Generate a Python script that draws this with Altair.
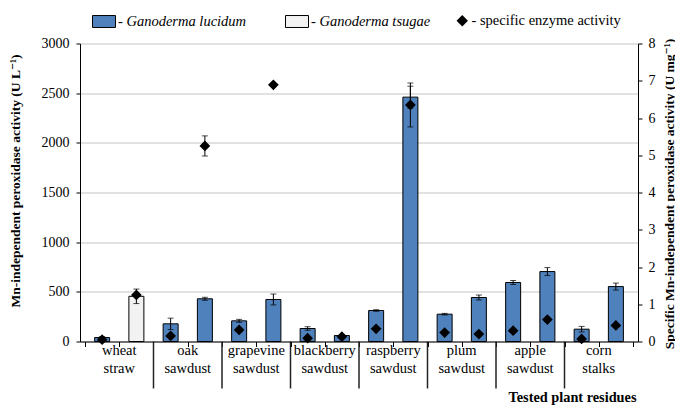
import altair as alt
import pandas as pd

# ---- data ----
categories = ["wheat straw", "oak sawdust", "grapevine sawdust", "blackberry sawdust",
              "raspberry sawdust", "plum sawdust", "apple sawdust", "corn stalks"]
category_lines = [["wheat", "straw"], ["oak", "sawdust"], ["grapevine", "sawdust"],
                  ["blackberry", "sawdust"], ["raspberry", "sawdust"], ["plum", "sawdust"],
                  ["apple", "sawdust"], ["corn", "stalks"]]

bar_species = ["Ganoderma lucidum", "Ganoderma tsugae"] + ["Ganoderma lucidum"] * 14
bar_values = [40, 455, 178, 430, 208, 423, 131, 60, 312, 2460, 275, 443, 594, 704, 124, 553]
bar_errors = [10, 73, 57, 15, 15, 55, 18, 6, 8, 110, 8, 25, 20, 40, 28, 35]

specific_values = [0.05, 1.25, 0.15, 5.25, 0.31, 6.89, 0.09, 0.13,
                   0.34, 6.35, 0.24, 0.20, 0.29, 0.59, 0.07, 0.43]
specific_errors = [0, 0, 0, 0.27, 0, 0, 0, 0, 0, 0.59, 0, 0, 0, 0, 0, 0]

species_domain = ["Ganoderma lucidum", "Ganoderma tsugae"]
species_colors = ["#4f81bd", "#f2f2f2"]
specific_name = "specific enzyme activity"

left_ticks = [0, 500, 1000, 1500, 2000, 2500, 3000]
right_ticks = [0, 1, 2, 3, 4, 5, 6, 7, 8]

# ---- tables ----
n = len(bar_values)
bars_df = pd.DataFrame({
    "x": [i + 0.5 for i in range(n)],
    "val": bar_values,
    "lo": [v - e for v, e in zip(bar_values, bar_errors)],
    "hi": [v + e for v, e in zip(bar_values, bar_errors)],
    "species": bar_species,
})
spec_df = pd.DataFrame({
    "x": [i + 0.5 for i in range(n)],
    "spec": specific_values,
    "series": [specific_name] * n,
})
spec_err_df = pd.DataFrame({
    "x": [i + 0.5 for i, e in enumerate(specific_errors) if e > 0],
    "slo": [v - e for v, e in zip(specific_values, specific_errors) if e > 0],
    "shi": [v + e for v, e in zip(specific_values, specific_errors) if e > 0],
})
labels_df = pd.DataFrame({"x": [2 * k + 1 for k in range(len(categories))],
                          "lines": category_lines, "cat": categories})
div_df = pd.DataFrame({"x": [2 * k for k in range(1, len(categories))]})

FONT = "'Liberation Serif', 'Times New Roman', 'DejaVu Serif', serif"

x_axis = alt.Axis(values=list(range(17)), labels=False, grid=False, tickSize=5,
                  tickColor="black", domainColor="black", title="Tested  plant residues",
                  titleFont=FONT, titleFontSize=14.3, titleFontWeight="bold", titleColor="black",
                  titleX=492, titleY=56, titleAlign="center", titleBaseline="middle")
X = alt.X("x:Q", scale=alt.Scale(domain=[0, 16], nice=False, zero=False), axis=x_axis)

yl_scale = alt.Scale(domain=[0, 3000], nice=False)
yl_axis = alt.Axis(orient="left", values=left_ticks, format="d", grid=True, gridColor="#c4c4c4",
                   tickSize=4, tickColor="black", domainColor="black",
                   labelFont=FONT, labelFontSize=14, labelColor="black", labelPadding=7,
                   title="Mn-independent peroxidase activity (U L\u207b\u00b9)",
                   titleFont=FONT, titleFontSize=13.5, titleFontWeight="bold", titleColor="black",
                   titleAngle=270, titleX=-65, titleY=137, titleAlign="center",
                   titleBaseline="middle")
yr_scale = alt.Scale(domain=[0, 8], nice=False)
yr_axis = alt.Axis(orient="right", values=right_ticks, format="d", grid=False,
                   tickSize=4, tickColor="black", domainColor="black",
                   labelFont=FONT, labelFontSize=14, labelColor="black", labelPadding=6,
                   title="Specific Mn-independent peroxidase activity (U mg\u207b\u00b9)",
                   titleFont=FONT, titleFontSize=13.5, titleFontWeight="bold", titleColor="black",
                   titleAngle=270, titleX=31, titleY=150, titleAlign="center",
                   titleBaseline="middle")

species_legend = alt.Legend(
    orient="none", legendX=12, legendY=-34, direction="horizontal", title=None,
    padding=0, labelExpr="'- ' + datum.label", labelFont=FONT, labelFontSize=14.5,
    labelFontStyle="italic", labelColor="black", labelLimit=400, labelOffset=2,
    columnPadding=36, symbolType="M-1,-0.52H1V0.52H-1Z", symbolSize=529,
    symbolStrokeColor="black", symbolStrokeWidth=1,
)
specific_legend = alt.Legend(
    orient="none", legendX=375, legendY=-30, direction="horizontal", title=None,
    padding=0, labelExpr="'- ' + datum.label", labelFont=FONT, labelFontSize=14.5,
    labelColor="black", labelLimit=400, labelOffset=2,
    symbolSize=130, symbolFillColor="black", symbolStrokeColor="black", symbolStrokeWidth=1,
)

bars = alt.Chart(bars_df).mark_bar(size=15, stroke="black", strokeWidth=1).encode(
    x=X,
    y=alt.Y("val:Q", scale=yl_scale, axis=yl_axis),
    color=alt.Color("species:N", scale=alt.Scale(domain=species_domain, range=species_colors),
                    legend=species_legend),
)
bar_err = alt.Chart(bars_df).mark_rule(color="black", strokeWidth=1).encode(
    x=X, y=alt.Y("lo:Q", scale=yl_scale, axis=yl_axis), y2="hi:Q")
bar_caps = alt.Chart(bars_df).transform_fold(["lo", "hi"], as_=["k", "cap"]).mark_tick(
    orient="horizontal", size=6, thickness=1, color="black").encode(
    x=X, y=alt.Y("cap:Q", scale=yl_scale, axis=yl_axis))
cat_text = alt.Chart(labels_df).mark_text(
    font=FONT, fontSize=14.5, lineHeight=18, baseline="top", align="center", color="black"
).encode(x=X, y=alt.value(300.5), text="lines")
dividers = alt.Chart(div_df).mark_rule(color="#222222", strokeWidth=1.5).encode(
    x=X, y=alt.value(298), y2=alt.value(345))

left = alt.layer(bars, bar_err, bar_caps, cat_text, dividers)

points = alt.Chart(spec_df).mark_point(filled=True, size=115, opacity=1, color="black").encode(
    x=X,
    y=alt.Y("spec:Q", scale=yr_scale, axis=yr_axis),
    shape=alt.Shape("series:N", scale=alt.Scale(domain=[specific_name], range=["diamond"]),
                    legend=specific_legend),
)
pt_err = alt.Chart(spec_err_df).mark_rule(color="black", strokeWidth=1).encode(
    x=X, y=alt.Y("slo:Q", scale=yr_scale, axis=yr_axis), y2="shi:Q")
pt_caps = alt.Chart(spec_err_df).transform_fold(["slo", "shi"], as_=["k", "cap"]).mark_tick(
    orient="horizontal", size=6, thickness=1, color="black").encode(
    x=X, y=alt.Y("cap:Q", scale=yr_scale, axis=yr_axis))

right = alt.layer(points, pt_err, pt_caps)

chart = alt.layer(left, right).resolve_scale(y="independent").properties(
    width=558, height=298,
    autosize=alt.AutoSizeParams(type="none"),
    padding={"left": 72, "top": 35.5, "right": 37, "bottom": 67.5},
    background="white",
).configure_view(strokeWidth=0)

chart.save("out.html", embed_options={"renderer": "svg", "actions": False})
